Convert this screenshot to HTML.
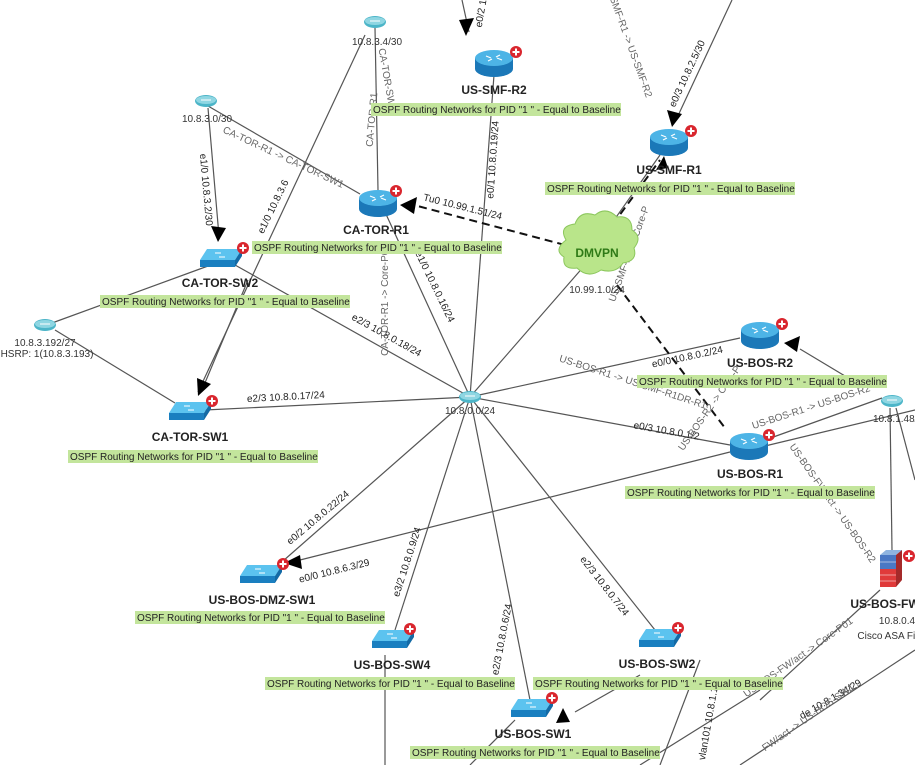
<!DOCTYPE html>
<html><head><meta charset="utf-8"><style>
html,body{margin:0;padding:0;background:#fff;}
svg{display:block;font-family:"Liberation Sans","DejaVu Sans",sans-serif;}
.n{font-size:12px;font-weight:bold;fill:#222;text-anchor:middle;}
.l{font-size:10px;fill:#333;text-anchor:middle;}
.g{font-size:10px;fill:#666;text-anchor:middle;}
.o{font-size:10px;fill:#222;}
.ln{stroke:#555;stroke-width:1.2;fill:none;}
.d{stroke:#111;stroke-width:2;stroke-dasharray:8,5;fill:none;}
</style></head><body>
<svg width="915" height="765" viewBox="0 0 915 765" xmlns="http://www.w3.org/2000/svg">
<defs>
<g id="router">
<path d="M-19,-5 v11 a19,8 0 0 0 38,0 v-11 z" fill="#1b78b8"/>
<ellipse cx="0" cy="-5" rx="19" ry="8" fill="#4db4e6"/>
<path d="M-8,-7 l5,2 M8,-3 l-5,-2 M-6,-2 l4,-2 M6,-8 l-4,2" stroke="#fff" stroke-width="1.2"/>
</g>
<g id="plus"><circle r="6" fill="#d9262e"/><path d="M-3.5,0h7M0,-3.5v7" stroke="#fff" stroke-width="2"/></g>
<g id="switch">
<path d="M-14,-9 L21,-9 L14,2 L-21,2 z" fill="#5cc3ef"/>
<path d="M-21,2 L14,2 L14,9 L-21,9 z" fill="#1a7fc0"/>
<path d="M14,2 L21,-9 L21,-2 L14,9 z" fill="#136aa5"/>
<path d="M-6,-5 l6,0 M4,-1 l-6,0" stroke="#fff" stroke-width="1"/>
</g>
<g id="hub"><ellipse rx="11" ry="6" fill="#4cb5c8"/><ellipse cy="-1" rx="10" ry="4" fill="#8fd6e2"/><path d="M-5,-1h10" stroke="#fff"/></g>
</defs>

<g class="ln">
<line x1="470" y1="397" x2="494" y2="75"/>
<line x1="470" y1="397" x2="385" y2="212"/>
<line x1="470" y1="397" x2="585" y2="265"/>
<line x1="470" y1="397" x2="235" y2="265"/>
<line x1="470" y1="397" x2="205" y2="410"/>
<line x1="470" y1="397" x2="740" y2="338"/>
<line x1="470" y1="397" x2="730" y2="445"/>
<line x1="470" y1="397" x2="275" y2="568"/>
<line x1="470" y1="397" x2="395" y2="630"/>
<line x1="470" y1="397" x2="530" y2="700"/>
<line x1="470" y1="397" x2="655" y2="630"/>
<line x1="600" y1="240" x2="660" y2="155"/>
<line x1="375" y1="28" x2="378" y2="190"/>
<line x1="365" y1="35" x2="198" y2="392"/>
<line x1="208" y1="106" x2="360" y2="194"/>
<line x1="208" y1="108" x2="219" y2="236"/>
<line x1="52" y1="323" x2="208" y2="266"/>
<line x1="55" y1="330" x2="175" y2="403"/>
<line x1="248" y1="280" x2="202" y2="390"/>
<line x1="462" y1="0" x2="469" y2="32"/>
<line x1="732" y1="0" x2="676" y2="120"/>
<line x1="855" y1="382" x2="800" y2="349"/>
<line x1="765" y1="440" x2="882" y2="398"/>
<line x1="765" y1="446" x2="915" y2="410"/>
<line x1="300" y1="560" x2="730" y2="452"/>
<line x1="890" y1="408" x2="892" y2="550"/>
<line x1="896" y1="408" x2="915" y2="480"/>
<line x1="640" y1="675" x2="575" y2="712"/>
<line x1="385" y1="655" x2="385" y2="765"/>
<line x1="515" y1="720" x2="470" y2="765"/>
<line x1="700" y1="660" x2="660" y2="765"/>
<line x1="880" y1="590" x2="760" y2="700"/>
<line x1="915" y1="650" x2="740" y2="765"/>
<line x1="640" y1="765" x2="760" y2="690"/>
</g>
<path class="d" d="M565,245 L410,204"/>
<path class="d" d="M605,235 L660,160"/>
<path class="d" d="M617,285 L725,428"/>
<g fill="#000">
<polygon points="400,205 417,197 414,214"/>
<polygon points="664,156 656,170 668,168"/>
<polygon points="218,242 211,226 226,228"/>
<polygon points="198,396 197,378 211,384"/>
<polygon points="466,36 459,20 474,18"/>
<polygon points="672,127 667,110 682,114"/>
<polygon points="784,343 800,336 797,352"/>
<polygon points="284,563 300,555 302,569"/>
<polygon points="556,723 563,708 570,722"/>
</g>

<g class="o">
<text transform="translate(496,160) rotate(-86)" text-anchor="middle">e0/1 10.8.0.19/24</text>
<text transform="translate(432,288) rotate(64)" text-anchor="middle">e1/0 10.8.0.16/24</text>
<text transform="translate(385,338) rotate(29)" text-anchor="middle">e2/3 10.8.0.18/24</text>
<text transform="translate(286,400) rotate(-3)" text-anchor="middle">e2/3 10.8.0.17/24</text>
<text transform="translate(688,360) rotate(-12)" text-anchor="middle">e0/0 10.8.0.2/24</text>
<text transform="translate(666,434) rotate(10)" text-anchor="middle">e0/3 10.8.0.1/2</text>
<text transform="translate(320,520) rotate(-40)" text-anchor="middle">e0/2 10.8.0.22/24</text>
<text transform="translate(335,574) rotate(-14)" text-anchor="middle">e0/0 10.8.6.3/29</text>
<text transform="translate(410,563) rotate(-72)" text-anchor="middle">e3/2 10.8.0.9/24</text>
<text transform="translate(505,640) rotate(-79)" text-anchor="middle">e2/3 10.8.0.6/24</text>
<text transform="translate(602,588) rotate(52)" text-anchor="middle">e2/3 10.8.0.7/24</text>
<text transform="translate(276,208) rotate(-64)" text-anchor="middle">e1/0 10.8.3.6</text>
<text transform="translate(203,190) rotate(85)" text-anchor="middle">e1/0 10.8.3.2/30</text>
<text transform="translate(462,210) rotate(14)" text-anchor="middle">Tu0 10.99.1.51/24</text>
<text transform="translate(690,75) rotate(-65)" text-anchor="middle">e0/3 10.8.2.5/30</text>
<text transform="translate(484,14) rotate(-80)" text-anchor="middle">e0/2 1</text>
<text transform="translate(832,702) rotate(-30)" text-anchor="middle">de 10.8.1.34/29</text>
<text transform="translate(712,720) rotate(-80)" text-anchor="middle">vlan101 10.8.1.19/</text>
</g>
<g class="g">
<text transform="translate(282,160) rotate(25)">CA-TOR-R1 -&gt; CA-TOR-SW1</text>
<text transform="translate(375,120) rotate(-85)">CA-TOR-R1</text>
<text transform="translate(384,80) rotate(80)">CA-TOR-SW1</text>
<text transform="translate(388,300) rotate(-90)">CA-TOR-R1 -&gt; Core-P01</text>
<text transform="translate(625,40) rotate(70)">US-SMF-R1 -&gt; US-SMF-R2</text>
<text transform="translate(632,255) rotate(-70)">US-SMF-R1 -&gt; Core-P</text>
<text transform="translate(632,385) rotate(18)">US-BOS-R1 -&gt; US-SMF-R1DR-R1</text>
<text transform="translate(712,410) rotate(-55)">US-BOS-R2 -&gt; Core-P</text>
<text transform="translate(812,410) rotate(-18)">US-BOS-R1 -&gt; US-BOS-R2</text>
<text transform="translate(830,505) rotate(55)">US-BOS-FW/act -&gt; US-BOS-R2</text>
<text transform="translate(800,660) rotate(-35)">US-BOS-FW/act -&gt; Core-P01</text>
<text transform="translate(810,720) rotate(-35)">FW/act -&gt; US-BOS-SW1</text>
</g>

<use href="#hub" x="375" y="22"/><text class="l" x="377" y="45">10.8.3.4/30</text>
<use href="#hub" x="206" y="101"/><text class="l" x="207" y="122">10.8.3.0/30</text>
<use href="#hub" x="45" y="325"/><text class="l" x="45" y="346">10.8.3.192/27</text><text class="l" x="47" y="357">HSRP: 1(10.8.3.193)</text>
<use href="#hub" x="470" y="397"/><text class="l" x="470" y="414">10.8.0.0/24</text>
<use href="#hub" x="892" y="401"/><text class="l" x="898" y="422">10.8.1.48/2</text>

<g>
<path d="M566,240 q-8,-14 9,-16 q5,-14 20,-9 q11,-9 22,2 q15,-2 15,13 q11,7 2,18 q4,13 -11,15 q-7,11 -22,7 q-13,9 -24,-2 q-15,2 -13,-11 q-11,-7 2,-17z" fill="#b9e58a" stroke="#8cc75d"/>
<text x="597" y="257" text-anchor="middle" font-size="12" font-weight="bold" fill="#2f7a17">DMVPN</text>
<text class="l" x="597" y="293">10.99.1.0/24</text>
</g>

<use href="#router" x="494" y="63"/><use href="#plus" x="516" y="52"/>
<use href="#router" x="669" y="142"/><use href="#plus" x="691" y="131"/>
<use href="#router" x="378" y="203"/><use href="#plus" x="396" y="191"/>
<use href="#router" x="760" y="335"/><use href="#plus" x="782" y="324"/>
<use href="#router" x="749" y="446"/><use href="#plus" x="769" y="435"/>
<use href="#switch" x="221" y="258"/><use href="#plus" x="243" y="248"/>
<use href="#switch" x="190" y="411"/><use href="#plus" x="212" y="401"/>
<use href="#switch" x="261" y="574"/><use href="#plus" x="283" y="564"/>
<use href="#switch" x="393" y="639"/><use href="#plus" x="410" y="629"/>
<use href="#switch" x="660" y="638"/><use href="#plus" x="678" y="628"/>
<use href="#switch" x="532" y="708"/><use href="#plus" x="552" y="698"/>
<g transform="translate(893,575)">
<path d="M-13,-20 l6,-5 h16 l-6,5z" fill="#8fb4e0"/>
<rect x="-13" y="-20" width="16" height="14" fill="#4a78c4"/>
<rect x="-13" y="-6" width="16" height="18" fill="#e03a3a"/>
<path d="M3,-20 l6,-5 v30 l-6,7z" fill="#a52a2a"/>
<path d="M-13,-13h16M-13,0h16M-13,6h16" stroke="#fff" stroke-width="0.6"/>
<use href="#plus" x="16" y="-19"/>
</g>

<text class="n" x="494" y="94">US-SMF-R2</text>
<text class="n" x="669" y="174">US-SMF-R1</text>
<text class="n" x="376" y="234">CA-TOR-R1</text>
<text class="n" x="220" y="287">CA-TOR-SW2</text>
<text class="n" x="190" y="441">CA-TOR-SW1</text>
<text class="n" x="760" y="367">US-BOS-R2</text>
<text class="n" x="750" y="478">US-BOS-R1</text>
<text class="n" x="262" y="604">US-BOS-DMZ-SW1</text>
<text class="n" x="392" y="669">US-BOS-SW4</text>
<text class="n" x="657" y="668">US-BOS-SW2</text>
<text class="n" x="533" y="738">US-BOS-SW1</text>
<text class="n" x="885" y="608">US-BOS-FW</text>
<text class="l" x="897" y="624">10.8.0.4</text>
<text class="l" x="888" y="639">Cisco ASA Fir</text>

<g font-size="10" fill="#222">
<rect x="371" y="103" width="250" height="13" fill="#c3e59c"/><text x="373" y="113">OSPF Routing Networks for PID "1 " - Equal to Baseline</text>
<rect x="545" y="182" width="250" height="13" fill="#c3e59c"/><text x="547" y="192">OSPF Routing Networks for PID "1 " - Equal to Baseline</text>
<rect x="252" y="241" width="250" height="13" fill="#c3e59c"/><text x="254" y="251">OSPF Routing Networks for PID "1 " - Equal to Baseline</text>
<rect x="100" y="295" width="250" height="13" fill="#c3e59c"/><text x="102" y="305">OSPF Routing Networks for PID "1 " - Equal to Baseline</text>
<rect x="637" y="375" width="250" height="13" fill="#c3e59c"/><text x="639" y="385">OSPF Routing Networks for PID "1 " - Equal to Baseline</text>
<rect x="68" y="450" width="250" height="13" fill="#c3e59c"/><text x="70" y="460">OSPF Routing Networks for PID "1 " - Equal to Baseline</text>
<rect x="625" y="486" width="250" height="13" fill="#c3e59c"/><text x="627" y="496">OSPF Routing Networks for PID "1 " - Equal to Baseline</text>
<rect x="135" y="611" width="250" height="13" fill="#c3e59c"/><text x="137" y="621">OSPF Routing Networks for PID "1 " - Equal to Baseline</text>
<rect x="265" y="677" width="250" height="13" fill="#c3e59c"/><text x="267" y="687">OSPF Routing Networks for PID "1 " - Equal to Baseline</text>
<rect x="533" y="677" width="250" height="13" fill="#c3e59c"/><text x="535" y="687">OSPF Routing Networks for PID "1 " - Equal to Baseline</text>
<rect x="410" y="746" width="250" height="13" fill="#c3e59c"/><text x="412" y="756">OSPF Routing Networks for PID "1 " - Equal to Baseline</text>
</g>
</svg>
</body></html>
